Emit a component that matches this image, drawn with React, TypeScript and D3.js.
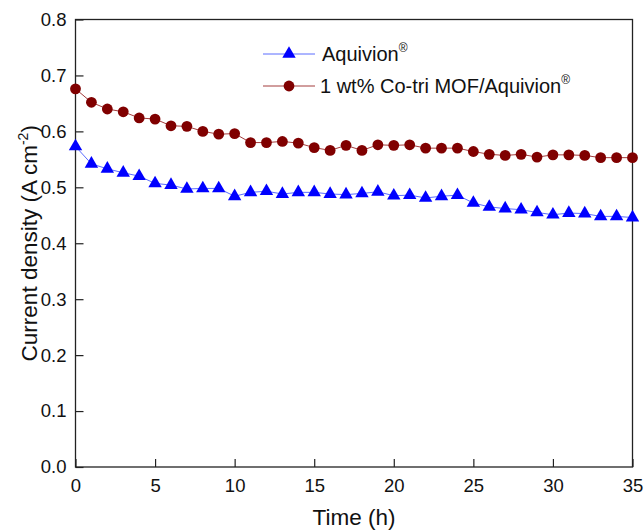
import React, { useEffect, useRef } from 'react';
import * as d3 from 'd3';

// hours on the x axis
const hours = d3.range(0, 36);

// Aquivion membrane
const aquivion = [
  0.573, 0.542, 0.533, 0.526, 0.520, 0.507, 0.504, 0.497, 0.498, 0.498,
  0.484, 0.491, 0.493, 0.488, 0.491, 0.491, 0.488, 0.487, 0.489, 0.492,
  0.485, 0.486, 0.481, 0.484, 0.486, 0.472, 0.465, 0.462, 0.460, 0.455,
  0.451, 0.454, 0.453, 0.448, 0.448, 0.446,
];

// 1 wt% Co-tri MOF/Aquivion composite
const composite = [
  0.676, 0.652, 0.640, 0.635, 0.624, 0.622, 0.610, 0.609, 0.600, 0.595,
  0.596, 0.580, 0.580, 0.582, 0.579, 0.571, 0.566, 0.575, 0.566, 0.576,
  0.575, 0.576, 0.570, 0.570, 0.570, 0.564, 0.559, 0.557, 0.559, 0.554,
  0.558, 0.558, 0.557, 0.553, 0.553, 0.553,
];

const xTicks = [0, 5, 10, 15, 20, 25, 30, 35];
const yTicks = [0, 0.1, 0.2, 0.3, 0.4, 0.5, 0.6, 0.7, 0.8];

const FONT = 'Liberation Sans, Arial, sans-serif';

function App() {
  const ref = useRef<SVGSVGElement>(null);

  useEffect(() => {
    const width = 644,
      height = 532;
    const left = 75.5,
      right = 632.5,
      top = 19.5,
      bottom = 467;

    const svg = d3.select(ref.current);
    svg.selectAll('*').remove();
    svg.attr('width', width).attr('height', height);

    svg.append('rect').attr('width', width).attr('height', height).attr('fill', '#fff');

    const x = d3.scaleLinear().domain([0, 35]).range([left, right]);
    const y = d3.scaleLinear().domain([0, 0.8]).range([bottom, top]);

    // frame
    svg.append('rect')
      .attr('x', left).attr('y', top)
      .attr('width', right - left).attr('height', bottom - top)
      .attr('fill', 'none').attr('stroke', '#222').attr('stroke-width', 1.3);

    // x axis (ticks inward)
    const xAxis = svg.append('g').attr('transform', `translate(0,${bottom})`)
      .call(d3.axisBottom(x).tickValues(xTicks).tickSize(-8).tickPadding(12).tickFormat(d3.format('d')));
    xAxis.select('.domain').remove();
    xAxis.selectAll('line').attr('stroke', '#222').attr('stroke-width', 1.2);
    xAxis.selectAll('text').attr('font-family', FONT).attr('font-size', 18.5).attr('fill', '#111');

    // y axis (ticks inward)
    const yAxis = svg.append('g').attr('transform', `translate(${left},0)`)
      .call(d3.axisLeft(y).tickValues(yTicks).tickSize(-8).tickPadding(9).tickFormat(d3.format('.1f')));
    yAxis.select('.domain').remove();
    yAxis.selectAll('line').attr('stroke', '#222').attr('stroke-width', 1.2);
    yAxis.selectAll('text').attr('font-family', FONT).attr('font-size', 18.5).attr('fill', '#111');

    // axis titles
    svg.append('text')
      .attr('x', (left + right) / 2).attr('y', 525)
      .attr('text-anchor', 'middle')
      .attr('font-family', FONT).attr('font-size', 22.5).attr('fill', '#111')
      .text('Time (h)');

    const yt = svg.append('text')
      .attr('transform', `translate(37,${(top + bottom) / 2}) rotate(-90)`)
      .attr('text-anchor', 'middle')
      .attr('font-family', FONT).attr('font-size', 22.5).attr('fill', '#111');
    yt.append('tspan').text('Current density (A cm');
    yt.append('tspan').attr('dy', -9).attr('font-size', 14).text('-2');
    yt.append('tspan').attr('dy', 9).text(')');

    const line = d3.line<number>().x((d, i) => x(hours[i])).y((d) => y(d));
    const tri = d3.symbol().type(d3.symbolTriangle).size(78);

    // composite series
    svg.append('path').datum(composite)
      .attr('d', line).attr('fill', 'none').attr('stroke', '#a33c3c').attr('stroke-width', 1);
    svg.append('g').selectAll('circle').data(composite).enter().append('circle')
      .attr('cx', (d, i) => x(hours[i])).attr('cy', (d) => y(d))
      .attr('r', 5.4).attr('fill', '#800000');

    // aquivion series
    svg.append('path').datum(aquivion)
      .attr('d', line).attr('fill', 'none').attr('stroke', '#5a6cff').attr('stroke-width', 1);
    svg.append('g').selectAll('path').data(aquivion).enter().append('path')
      .attr('d', tri)
      .attr('transform', (d, i) => `translate(${x(hours[i])},${y(d)})`)
      .attr('fill', '#0000ff');

    // legend
    const lg = svg.append('g');
    lg.append('line').attr('x1', 263).attr('x2', 315).attr('y1', 54).attr('y2', 54)
      .attr('stroke', '#5a6cff').attr('stroke-width', 1);
    lg.append('path').attr('d', tri).attr('transform', 'translate(289,54)').attr('fill', '#0000ff');
    const t1 = lg.append('text').attr('x', 322).attr('y', 61)
      .attr('font-family', FONT).attr('font-size', 20).attr('fill', '#111');
    t1.append('tspan').text('Aquivion');
    t1.append('tspan').attr('dy', -9).attr('font-size', 12).text('®');

    lg.append('line').attr('x1', 263).attr('x2', 315).attr('y1', 86).attr('y2', 86)
      .attr('stroke', '#a33c3c').attr('stroke-width', 1);
    lg.append('circle').attr('cx', 289).attr('cy', 86).attr('r', 5.4).attr('fill', '#800000');
    const t2 = lg.append('text').attr('x', 320).attr('y', 93)
      .attr('font-family', FONT).attr('font-size', 20).attr('fill', '#111');
    t2.append('tspan').text('1 wt% Co-tri MOF/Aquivion');
    t2.append('tspan').attr('dy', -9).attr('font-size', 12).text('®');
  }, []);

  return <svg ref={ref} style={{ position: 'absolute', left: 0, top: 0 }} />;
}

export default App;
